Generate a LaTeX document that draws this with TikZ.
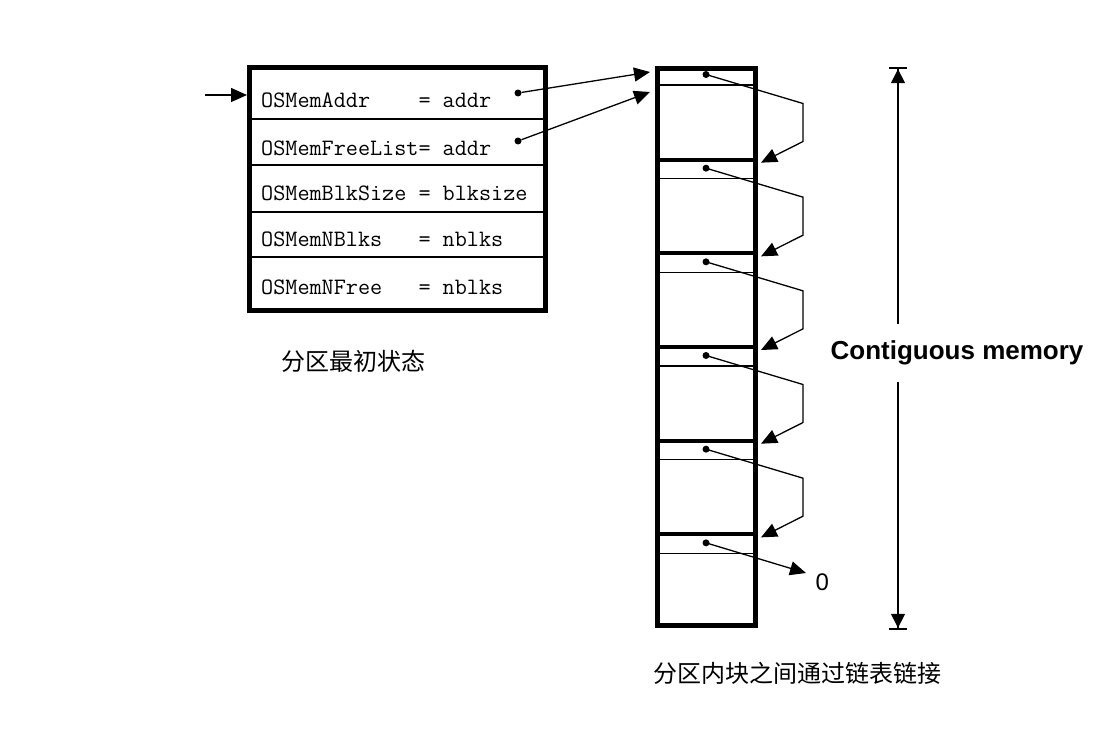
\documentclass[tikz,border=0pt]{standalone}
\usepackage{fontspec}
\setmainfont{Liberation Sans}
\newfontfamily\cjk{Noto Sans CJK SC}
\usetikzlibrary{arrows.meta, positioning}

\tikzstyle{arrow}     = [line width=1.3pt, -{Triangle[length=16pt, width=14pt]}]
\tikzstyle{dimarrow}  = [line width=1.5pt, -{Triangle[length=14pt, width=14pt] Bar[width=18pt, line width=2.2pt]}]
\tikzstyle{ptr}       = [circle, fill, inner sep=0pt, minimum size=7pt]
\tikzstyle{field}     = [anchor=base west, inner sep=0pt, font=\ttfamily\fontsize{23.5}{23.5}\selectfont]
\tikzstyle{caption}   = [inner sep=0pt, font=\cjk\fontsize{24}{24}\selectfont]

\begin{document}
\begin{tikzpicture}[x=1pt, y=-1pt]

        \useasboundingbox (0,0) rectangle (1102,751);

        % Pocatecni stav
        \draw[line width=5pt] (249.5,67.5) rectangle (545.5,310.5);
        \foreach \y in {119,165,212,257}
            \draw[line width=2pt] (247,\y) -- (548,\y);

        \node[field] (addr)  at (261,108) {OSMemAddr~~~~= addr};
        \node[field] (free)  at (261,156) {OSMemFreeList= addr};
        \node[field] (size)  at (261,201) {OSMemBlkSize = blksize};
        \node[field] (nblks) at (261,247) {OSMemNBlks~~~= nblks};
        \node[field] (nfree) at (261,294) {OSMemNFree~~~= nblks};

        \node[ptr] (ptrA) at (518,93) {};
        \node[ptr] (ptrB) at (518,141) {};

        \coordinate (inptr) at (205,95);
        \coordinate (boxin) at (247,95);
        \draw[arrow] (inptr) -- (boxin);

        \node[caption] (initlabel) at (353,361) {分区最初状态};

        % Pamet
        \draw[line width=5pt] (657.5,68.5) rectangle (755.5,625.5);
        \foreach \i in {1,...,5} {
            \pgfmathsetmacro\blktop{66+\i*93.67}
            \draw[line width=4pt] (655,\blktop) -- (758,\blktop);
        }
        \foreach \i in {0,...,5} {
            \pgfmathsetmacro\blktop{66+\i*93.67}
            \draw[line width=1.5pt] (655,\blktop+19) -- (758,\blktop+19);
            \node[ptr] (p\i) at (706,\blktop+8.5) {};
        }

        \coordinate (memA) at (650,72);
        \coordinate (memB) at (650,92);
        \draw[arrow] (ptrA) -- (memA);
        \draw[arrow] (ptrB) -- (memB);

        % Odkazy mezi bloky
        \foreach \i/\j in {0/1,1/2,2/3,3/4,4/5} {
            \pgfmathsetmacro\nexttop{66+\j*93.67+3}
            \coordinate (t\i) at (761,\nexttop);
            \draw[arrow] (p\i.center) -- ++(97,29) -- ++(0,38) -- (t\i);
        }

        \node[anchor=west, font=\fontsize{24}{24}\selectfont] (zero) at (812,582) {0};
        \coordinate (t5) at (806,573);
        \draw[arrow] (p5.center) -- (t5);

        \node[caption] (linklabel) at (797,673) {分区内块之间通过链表链接};

        % Souvisla pamet
        \coordinate (memtop) at (898,67);
        \coordinate (membot) at (898,630);
        \node[inner sep=0pt, minimum height=58pt, font=\bfseries\fontsize{26}{26}\selectfont]
            (memlabel) at (957,353) {Contiguous memory};
        \draw[dimarrow] (memlabel.north -| memtop) -- (memtop);
        \draw[dimarrow] (memlabel.south -| membot) -- (membot);

    \end{tikzpicture}
\end{document}
